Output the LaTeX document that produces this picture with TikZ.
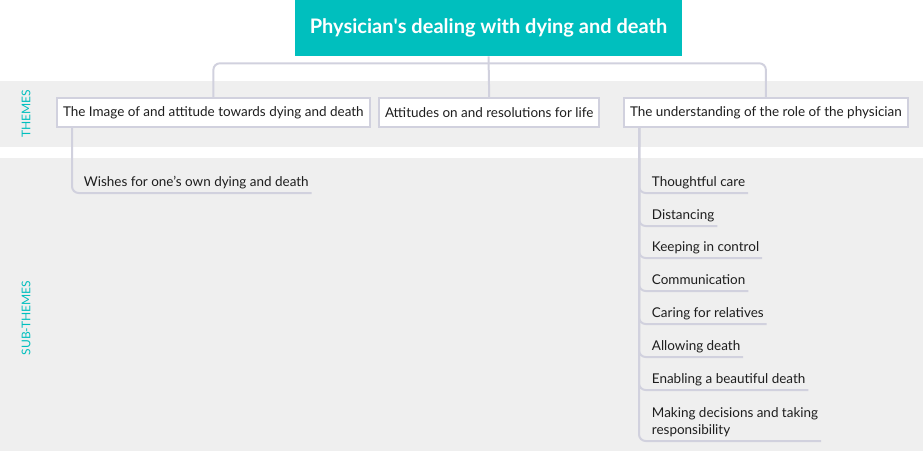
\documentclass[tikz,border=0pt]{standalone}
\usepackage{fontspec}
\setmainfont{Lato}
\usepackage{xcolor}
\usetikzlibrary{positioning,calc}

\definecolor{teal}{RGB}{0,191,190}
\definecolor{bandgray}{RGB}{239,239,239}
\definecolor{linegray}{RGB}{209,209,222}
\definecolor{txtgray}{RGB}{30,30,30}

\begin{document}
\begin{tikzpicture}[
    x=0.75pt, y=-0.75pt,
    band/.style={fill=bandgray},
    title/.style={rectangle, fill=teal, text=white, font=\fontsize{15}{18}\selectfont\bfseries,
        minimum width=387*0.75pt, minimum height=56*0.75pt, inner sep=0pt},
    theme/.style={rectangle, draw=linegray, line width=1.5pt, fill=white, anchor=west,
        text=txtgray, font=\fontsize{10.1}{12}\selectfont, inner xsep=4.5pt, minimum height=29*0.75pt},
    sub/.style={anchor=south west, align=left, text=txtgray, font=\fontsize{10.1}{12.5}\selectfont,
        inner xsep=2pt, inner ysep=2.5pt, text depth=0.25em},
    label/.style={rotate=90, text=teal, font=\fontsize{9}{10}\selectfont},
    link/.style={draw=linegray, line width=1.5pt, rounded corners=5pt}
]
    \useasboundingbox (0,0) rectangle (923,451);

    % background bands
    \fill[band] (0,81) rectangle (923,147);
    \fill[band] (0,158) rectangle (923,451);
    \node[label] (lthemes) at (26,114) {THEMES};
    \node[label] (lsub) at (26,318) {SUB-THEMES};

    % title and themes
    \node[title] (title) at (488.5,28) {Physician\textquotesingle s dealing with dying and death};
    \node[theme] (T1) at (56,112.5) {The Image of and attitude towards dying and death};
    \node[theme] (T2) at (378,112.5) {Attitudes on and resolutions for life};
    \node[theme] (T3) at (623,112.5) {The understanding of the role of the physician};

    \coordinate (split) at ($(title.south)+(0,7)$);
    \draw[link] (title.south) -- (T2.north);
    \draw[link] (split) -| (T1.north);
    \draw[link] (split) -| (T3.north);

    % sub-themes
    \node[sub] (W) at (81,193) {Wishes for one's own dying and death};
    \draw[link] ($(T1.south west)+(16,0)$) |- (W.south east);

    \coordinate (trunk) at ($(T3.south west)+(16,0)$);
    \foreach \y/\txt [count=\i] in {193/Thoughtful care, 226/Distancing, 258/Keeping in control,
        291/Communication, 324/Caring for relatives, 357/Allowing death,
        390/Enabling a beautiful death, 441/{Making decisions and taking\\responsibility}} {
        \node[sub] (S\i) at (649,\y) {\txt};
        \draw[link] (trunk) |- (S\i.south east);
    }

\end{tikzpicture}
\end{document}
